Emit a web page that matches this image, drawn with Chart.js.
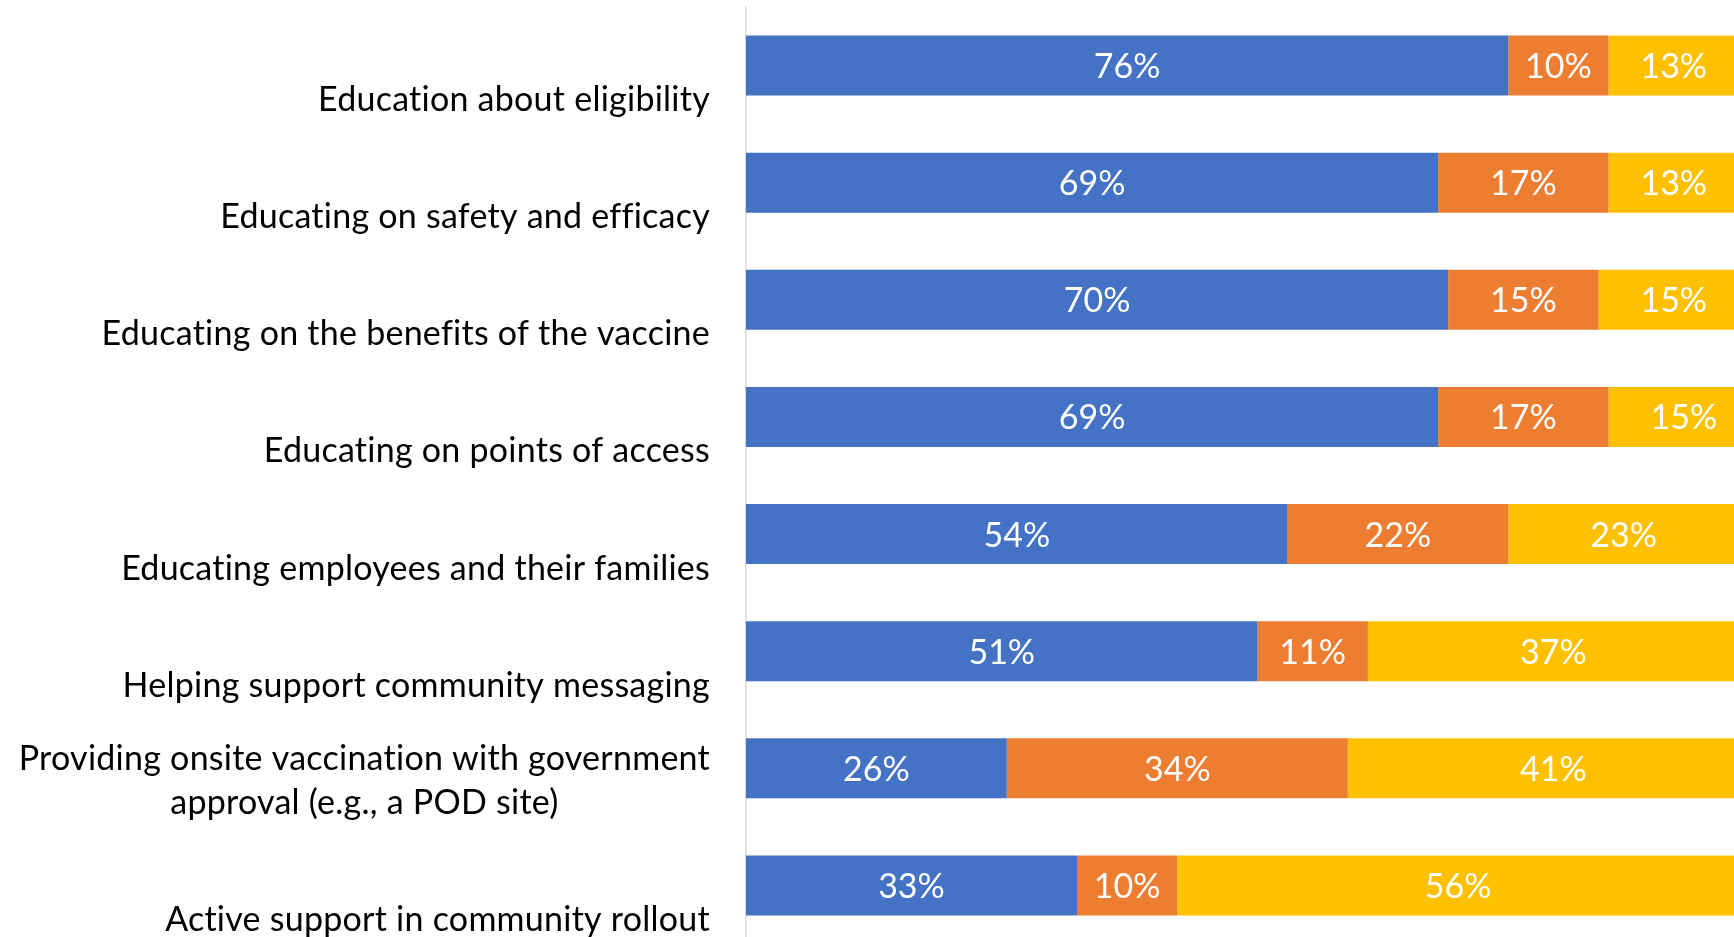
<!DOCTYPE html>
<html>
<head>
<meta charset="utf-8">
<script src="https://cdn.jsdelivr.net/npm/chart.js@4.4.1/dist/chart.umd.min.js"></script>
<style>
  html, body { margin: 0; padding: 0; background: #fff; overflow: hidden; }
  #wrap { width: 1734px; height: 937px; overflow: hidden; }
</style>
</head>
<body>
<div id="wrap"><canvas id="chart" width="1760" height="950"></canvas></div>
<script>
const categories = [
    ["Education about eligibility"],
    ["Educating on safety and efficacy"],
    ["Educating on the benefits of the vaccine"],
    ["Educating on points of access"],
    ["Educating employees and their families"],
    ["Helping support community messaging"],
    ["Providing onsite vaccination with government", "approval (e.g., a POD site)"],
    ["Active support in community rollout"]
];
const blueValues = [76, 69, 70, 69, 54, 51, 26, 33];
const orangeValues = [10, 17, 15, 17, 22, 11, 34, 10];
const yellowValues = [13, 13, 15, 15, 23, 37, 41, 56];

const FONT = "34px Lato, 'Noto Sans', sans-serif";

// white percentage text in the middle of every segment
const valueLabels = {
    id: "valueLabels",
    afterDatasetsDraw(chart) {
        const ctx = chart.ctx;
        ctx.save();
        ctx.font = FONT;
        ctx.fillStyle = "#ffffff";
        ctx.textAlign = "center";
        ctx.textBaseline = "alphabetic";
        const asc = ctx.measureText("0").actualBoundingBoxAscent;
        chart.data.datasets.forEach((ds, di) => {
            const meta = chart.getDatasetMeta(di);
            meta.data.forEach((bar, i) => {
                const p = bar.getCenterPoint();
                ctx.fillText(ds.data[i] + "%", p.x, p.y + asc / 2);
            });
        });
        ctx.restore();
    }
};

// category names sit a bit below their bars, last line lined up
const categoryLabels = {
    id: "categoryLabels",
    afterDraw(chart) {
        const ctx = chart.ctx;
        const y = chart.scales.y;
        ctx.save();
        ctx.font = FONT;
        ctx.letterSpacing = "0.25px";
        ctx.fillStyle = "#000000";
        ctx.textAlign = "center";
        ctx.textBaseline = "alphabetic";
        const asc = ctx.measureText("E").actualBoundingBoxAscent;
        const right = 710, lineH = 44;
        categories.forEach((lines, i) => {
            const w = Math.max(...lines.map(l => ctx.measureText(l).width));
            const cx = right - w / 2;
            const base = y.getPixelForValue(i) + 33 + asc / 2;
            lines.forEach((l, k) => {
                ctx.fillText(l, cx, base - (lines.length - 1 - k) * lineH);
            });
        });
        ctx.restore();
    }
};

new Chart(document.getElementById("chart"), {
    type: "bar",
    data: {
        labels: categories.map(c => c.join(" ")),
        datasets: [
            { data: blueValues, backgroundColor: "#4472C4" },
            { data: orangeValues, backgroundColor: "#ED7D31" },
            { data: yellowValues, backgroundColor: "#FFC000" }
        ]
    },
    options: {
        indexAxis: "y",
        responsive: false,
        animation: false,
        devicePixelRatio: 1,
        layout: { padding: { top: 7, right: 11, bottom: 6, left: 0 } },
        datasets: { bar: { categoryPercentage: 1, barPercentage: 0.512 } },
        scales: {
            x: { stacked: true, min: 0, max: 100, display: false },
            y: {
                stacked: true,
                grid: { display: false },
                ticks: { display: false },
                border: { display: true, color: "#D9D9D9", width: 1.5 },
                afterFit: s => { s.width = 746; }
            }
        },
        plugins: {
            legend: { display: false },
            tooltip: { enabled: false }
        }
    },
    plugins: [valueLabels, categoryLabels]
});
</script>
</body>
</html>
